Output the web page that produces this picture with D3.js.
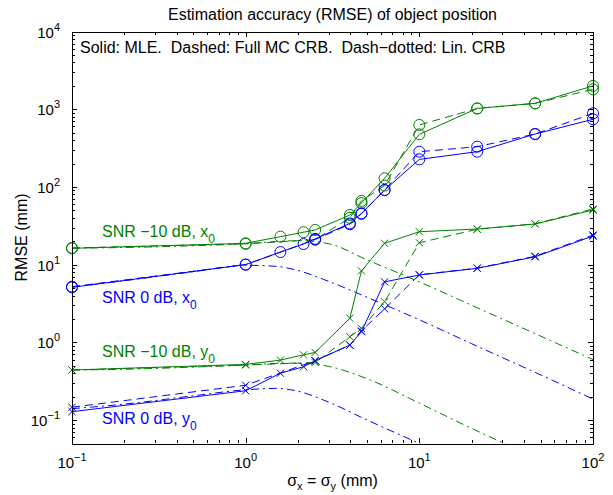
<!DOCTYPE html>
<html>
<head>
<meta charset="utf-8">
<script src="https://cdn.jsdelivr.net/npm/d3@7"></script>
<style>
  body { margin: 0; background: #fff; }
  text { font-family: "Liberation Sans", Arial, sans-serif; }
</style>
</head>
<body>
<svg id="chart" width="613" height="495"></svg>
<script>
// sigma values (mm) where the MLE was run
var sigmaMLE = [0.1, 1, 1.585, 2.154, 2.512, 3.981, 4.642, 6.310, 10, 21.54, 46.42, 100];
// sigma values where the full MC CRB was evaluated
var sigmaCRB = [0.1, 1, 2.512, 3.981, 4.642, 6.310, 10, 21.54, 46.42, 100];
// sigma values
var sigmaLin = [0.1, 0.2, 0.5, 1, 1.5, 2, 3, 5, 10, 20, 50, 100];

// SNR -10 dB, x0
var mleX10 = [16.2, 18.8, 22.9, 26.1, 27.9, 43.5, 62, 129, 475, 1023, 1190, 1995];
var crbX10 = [16.4, 18.5, 21, 40, 66, 104, 627, 1023, 1190, 1800];
var linX10 = [16.3, 16.6, 17.5, 18.6, 19.8, 20.3, 18.6, 11.5, 6.0, 3.0, 1.2, 0.6];
// SNR 0 dB, x0
var mleX0 = [5.1, 10.0, 14.5, 18.4, 21.4, 33.9, 45.7, 91, 226, 284, 479, 741];
var crbX0 = [5.2, 10.0, 21.0, 33.0, 45.0, 91, 284, 329, 479, 885];
var linX0 = [5.15, 6.2, 8.1, 9.8, 9.5, 8.4, 6.1, 3.8, 1.95, 0.96, 0.38, 0.186];
// SNR -10 dB, y0
var mleY10 = [0.44, 0.52, 0.59, 0.69, 0.74, 2.04, 8.3, 18.8, 26.5, 28.7, 33.3, 50.5];
var crbY10 = [0.44, 0.51, 0.55, 1.18, 1.51, 3.33, 19.1, 28.5, 33.5, 52];
var linY10 = [0.44, 0.45, 0.48, 0.51, 0.535, 0.54, 0.49, 0.34, 0.165, 0.078, 0.031, 0.016];
// SNR 0 dB, y0
var mleY0 = [0.128, 0.238, 0.40, 0.485, 0.58, 0.92, 1.37, 6.0, 7.35, 8.96, 12.6, 23.3];
var crbY0 = [0.146, 0.28, 0.58, 0.92, 1.4, 2.7, 7.4, 9.0, 12.8, 24];
var linY0 = [0.14, 0.16, 0.205, 0.245, 0.255, 0.235, 0.17, 0.1, 0.05, 0.025, 0.01, 0.005];

var xMajor = [0.1, 1, 10, 100];
var xExp = ["\u22121", "0", "1", "2"];
var yMajor = [0.1, 1, 10, 100, 1000, 10000];
var yExp = ["\u22121", "0", "1", "2", "3", "4"];

var green = "#008000", blue = "#0000ff";

var groups = [
  {mle: mleX10, crb: crbX10, lin: linX10, color: green, marker: "o",
   label: "SNR \u221210 dB, x", lx: 102, ly: 237},
  {mle: mleX0, crb: crbX0, lin: linX0, color: blue, marker: "o",
   label: "SNR 0 dB, x", lx: 102, ly: 303},
  {mle: mleY10, crb: crbY10, lin: linY10, color: green, marker: "x",
   label: "SNR \u221210 dB, y", lx: 102, ly: 357},
  {mle: mleY0, crb: crbY0, lin: linY0, color: blue, marker: "x",
   label: "SNR 0 dB, y", lx: 102, ly: 424}
];

const margin = {left: 72, right: 20, top: 31.5, bottom: 51.6};
const W = 613, H = 495;

var svg = d3.select("#chart");

var x = d3.scaleLog().domain([0.1, 100]).range([margin.left, W - margin.right]);
var y = d3.scaleLog().domain([0.05, 10000]).range([H - margin.bottom, margin.top]);

var x0 = x.range()[0], x1 = x.range()[1], y0 = y.range()[0], y1 = y.range()[1];

svg.append("defs").append("clipPath").attr("id", "clip")
  .append("rect").attr("x", x0).attr("y", y1).attr("width", x1 - x0).attr("height", y0 - y1);

// ticks (inward, on all four sides)
var xMinor = x.ticks().filter(d => xMajor.indexOf(d) < 0);
var yMinor = y.ticks().filter(d => yMajor.every(m => Math.abs(m - d) / m > 1e-6) && d > 0.05 * 1.0001);

var tk = svg.append("g").attr("stroke", "#000").attr("stroke-width", 1).attr("shape-rendering", "crispEdges");
function xt(list, len) {
  list.forEach(function(d) {
    var px = Math.round(x(d)) + 0.5;
    tk.append("line").attr("x1", px).attr("x2", px).attr("y1", y0).attr("y2", y0 - len);
    tk.append("line").attr("x1", px).attr("x2", px).attr("y1", y1).attr("y2", y1 + len);
  });
}
function yt(list, len) {
  list.forEach(function(d) {
    var py = Math.round(y(d)) + 0.5;
    tk.append("line").attr("y1", py).attr("y2", py).attr("x1", x0).attr("x2", x0 + len);
    tk.append("line").attr("y1", py).attr("y2", py).attr("x1", x1).attr("x2", x1 - len);
  });
}
xt(xMinor, 3); xt(xMajor, 5);
yt(yMinor, 3); yt(yMajor, 5);

// data lines
var line = d3.line().x(d => x(d[0])).y(d => y(d[1]));
var plot = svg.append("g").attr("clip-path", "url(#clip)");

groups.forEach(function(g) {
  var mle = d3.zip(sigmaMLE, g.mle);
  var crb = d3.zip(sigmaCRB, g.crb);
  var lin = d3.zip(sigmaLin, g.lin);
  plot.append("path").datum(lin).attr("d", d3.line().curve(d3.curveMonotoneX).x(d => x(d[0])).y(d => y(d[1])))
    .attr("fill", "none").attr("stroke", g.color).attr("stroke-width", 1)
    .attr("stroke-dasharray", "8,4,2,4");
  plot.append("path").datum(crb).attr("d", line)
    .attr("fill", "none").attr("stroke", g.color).attr("stroke-width", 1)
    .attr("stroke-dasharray", "8,5");
  plot.append("path").datum(mle).attr("d", line)
    .attr("fill", "none").attr("stroke", g.color).attr("stroke-width", 1);

  [mle, crb].forEach(function(pts) {
    var m = svg.append("g").attr("stroke", g.color).attr("fill", "none").attr("stroke-width", 1);
    if (g.marker === "o") {
      m.selectAll("circle").data(pts).enter().append("circle")
        .attr("cx", d => x(d[0])).attr("cy", d => y(d[1])).attr("r", 5.5);
    } else {
      m.selectAll("path").data(pts).enter().append("path")
        .attr("d", function(d) {
          var cx = x(d[0]), cy = y(d[1]), s = 3.6;
          return "M" + (cx - s) + "," + (cy - s) + "L" + (cx + s) + "," + (cy + s) +
                 "M" + (cx - s) + "," + (cy + s) + "L" + (cx + s) + "," + (cy - s);
        });
    }
  });
});

// box
svg.append("rect").attr("x", x0 + 0.5).attr("y", Math.round(y1) + 0.5)
  .attr("width", Math.round(x1 - x0)).attr("height", Math.round(y0 - y1))
  .attr("fill", "none").attr("stroke", "#000").attr("stroke-width", 1)
  .attr("shape-rendering", "crispEdges");

// tick labels
xMajor.forEach(function(d, i) {
  var t = svg.append("text").attr("x", x(d)).attr("y", 468).attr("text-anchor", "middle")
    .attr("font-size", 15).attr("fill", "#000");
  t.append("tspan").text("10");
  t.append("tspan").attr("font-size", 11).attr("dy", -7).text(xExp[i]);
});
yMajor.forEach(function(d, i) {
  var t = svg.append("text").attr("x", 60).attr("y", y(d) + 6).attr("text-anchor", "end")
    .attr("font-size", 15).attr("fill", "#000");
  t.append("tspan").text("10");
  t.append("tspan").attr("font-size", 11).attr("dy", -7).text(yExp[i]);
});

// series labels
groups.forEach(function(g) {
  var t = svg.append("text").attr("x", g.lx).attr("y", g.ly).attr("font-size", 16).attr("fill", g.color);
  t.append("tspan").text(g.label);
  t.append("tspan").attr("font-size", 12).attr("dy", 6).text("0");
});

// title, note, axis labels
svg.append("text").attr("x", (x0 + x1) / 2).attr("y", 20).attr("text-anchor", "middle")
  .attr("font-size", 16).text("Estimation accuracy (RMSE) of object position");
svg.append("text").attr("x", 80).attr("y", 53).attr("font-size", 16).attr("xml:space", "preserve")
  .text("Solid: MLE.  Dashed: Full MC CRB.  Dash\u2212dotted: Lin. CRB");

var xl = svg.append("text").attr("x", (x0 + x1) / 2).attr("y", 486).attr("text-anchor", "middle").attr("font-size", 16);
xl.append("tspan").text("\u03c3");
xl.append("tspan").attr("font-size", 11).attr("dy", 4).text("x");
xl.append("tspan").attr("dy", -4).text(" = \u03c3");
xl.append("tspan").attr("font-size", 11).attr("dy", 4).text("y");
xl.append("tspan").attr("dy", -4).text(" (mm)");

svg.append("text").attr("transform", "translate(27," + ((y0 + y1) / 2) + ") rotate(-90)")
  .attr("text-anchor", "middle").attr("font-size", 16).text("RMSE (mm)");
</script>
</body>
</html>
